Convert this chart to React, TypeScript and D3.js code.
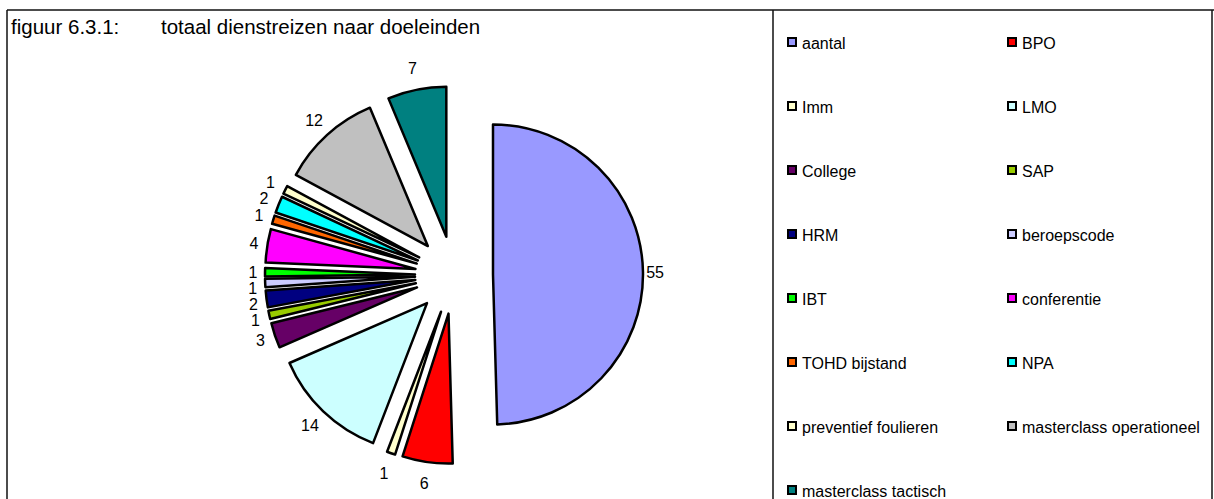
import React from "react";
import * as d3 from "d3";

const categories = [
  "aantal", "BPO", "Imm", "LMO", "College", "SAP", "HRM", "beroepscode",
  "IBT", "conferentie", "TOHD bijstand", "NPA", "preventief foulieren",
  "masterclass operationeel", "masterclass tactisch",
];
const values = [55, 6, 1, 14, 3, 1, 2, 1, 1, 4, 1, 2, 1, 12, 7];
const colors = [
  "#9999FF", "#FF0000", "#FFFFCC", "#CCFFFF", "#660066", "#99CC00", "#000080", "#CCCCFF",
  "#00FF00", "#FF00FF", "#FF6600", "#00FFFF", "#FFFFCC", "#C0C0C0", "#008080",
];
const titleLeft = "figuur 6.3.1:";
const titleRight = "totaal dienstreizen naar doeleinden";

const W = 1214;
const H = 499;
const FONT = "'Liberation Sans', Arial, sans-serif";

export default function App() {
  const cx = 454;
  const cy = 275;
  const R = 150;
  const explode = 39;

  const pie = d3.pie<number>().sort(null).value((d) => d)(values);
  const arc = d3.arc<d3.PieArcDatum<number>>().innerRadius(0).outerRadius(R);

  const slices = pie.map((p, i) => {
    const mid = (p.startAngle + p.endAngle) / 2;
    const ux = Math.sin(mid);
    const uy = -Math.cos(mid);
    const ax = cx + explode * ux;
    const ay = cy + explode * uy;
    const g = 12 + 10 * Math.abs(Math.cos(mid));
    return { p, i, ax, ay, lx: ax + (R + g) * ux, ly: ay + (R + g) * uy, left: ux < -0.8 };
  });

  // simple overlap resolution for the stacked labels on the left side
  const leftLabels = slices.filter((s) => s.left).sort((a, b) => a.ly - b.ly);
  const minGap = 16;
  for (let k = 1; k < leftLabels.length; k++) {
    if (leftLabels[k].ly - leftLabels[k - 1].ly < minGap) {
      leftLabels[k].ly = leftLabels[k - 1].ly + minGap;
    }
  }

  const legendX0 = 787;
  const legendX1 = 1007;
  const legendY0 = 43;
  const legendDy = 64;

  return (
    <svg width={W} height={H} style={{ position: "absolute", left: 0, top: 0, background: "#fff" }}>
      <rect x={0} y={0} width={W} height={H} fill="#fff" />
      <line x1={7} y1={10} x2={W} y2={10} stroke="#111" strokeWidth={1.5} />
      <line x1={7} y1={10} x2={7} y2={H} stroke="#111" strokeWidth={1.5} />
      <line x1={773} y1={10} x2={773} y2={H} stroke="#111" strokeWidth={1.5} />
      <line x1={1212} y1={10} x2={1212} y2={H} stroke="#111" strokeWidth={1.5} />

      <text x={11} y={34} fontFamily={FONT} fontSize={20.5} fill="#000">{titleLeft}</text>
      <text x={161} y={34} fontFamily={FONT} fontSize={20.5} fill="#000">{titleRight}</text>

      {slices.map((s) => (
        <g key={s.i}>
          <path
            d={arc(s.p) || ""}
            transform={`translate(${s.ax},${s.ay})`}
            fill={colors[s.i]}
            stroke="#000"
            strokeWidth={2.5}
            strokeLinejoin="round"
          />
          <text
            x={s.lx}
            y={s.ly}
            textAnchor="middle"
            dominantBaseline="central"
            fontFamily={FONT}
            fontSize={16}
            fill="#000"
          >
            {values[s.i]}
          </text>
        </g>
      ))}

      {categories.map((c, i) => {
        const col = i % 2;
        const row = Math.floor(i / 2);
        const x = col === 0 ? legendX0 : legendX1;
        const y = legendY0 + row * legendDy;
        return (
          <g key={c}>
            <rect x={x + 1} y={y - 5} width={8} height={8} fill={colors[i]} stroke="#000" strokeWidth={2} />
            <text x={x + 15} y={y} dominantBaseline="central" fontFamily={FONT} fontSize={16} fill="#000">
              {c}
            </text>
          </g>
        );
      })}
    </svg>
  );
}
